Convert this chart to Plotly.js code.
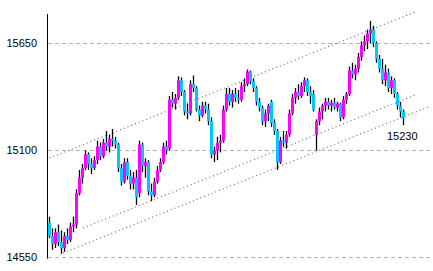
<!DOCTYPE html>
<html>
<head>
<meta charset="utf-8">
<script src="https://cdn.plot.ly/plotly-3.0.1.min.js"></script>
<style>
html,body{margin:0;padding:0;background:#fff;}
#chart{width:433px;height:271px;}
</style>
</head>
<body>
<div id="chart"></div>
<script>
const candleOpen = [14730,14660,14620,14680,14630,14600,14660,14640,14710,14720,
14880,14960,15010,15080,15030,15010,15050,15120,15070,15140,
15120,15160,15150,15130,15010,14940,15040,14970,14930,14960,
14880,15130,15020,15040,14890,14870,14940,15000,15040,15120,
15110,15360,15340,15370,15460,15400,15300,15290,15440,15420,
15310,15280,15330,15310,15250,15080,15100,15140,15150,15310,
15390,15350,15390,15370,15360,15430,15440,15505,15455,15420,
15350,15320,15250,15290,15350,15240,15200,15040,15150,15140,
15180,15290,15370,15400,15380,15430,15460,15400,15390,15180,
15250,15300,15330,15350,15330,15345,15320,15340,15270,15360,
15390,15510,15490,15520,15580,15640,15660,15700,15720,15650,
15570,15520,15460,15500,15420,15460,15390,15330,15300];
const candleHigh = [14760,14700,14700,14720,14690,14680,14700,14730,14760,14900,
15000,15030,15100,15090,15060,15070,15150,15140,15160,15200,
15180,15210,15170,15140,15030,15060,15060,15000,14990,15000,
15150,15140,15060,15050,14930,14960,15020,15060,15140,15150,
15380,15400,15390,15480,15475,15410,15340,15460,15485,15430,
15330,15350,15350,15340,15270,15120,15170,15180,15330,15420,
15420,15410,15420,15410,15450,15470,15515,15510,15470,15430,
15370,15330,15310,15340,15360,15260,15210,15170,15200,15200,
15310,15390,15420,15440,15450,15475,15470,15430,15410,15260,
15320,15340,15370,15370,15360,15370,15350,15345,15380,15400,
15530,15550,15540,15600,15660,15690,15720,15765,15740,15660,
15590,15570,15540,15520,15480,15470,15400,15350,15310];
const candleLow = [14650,14590,14600,14610,14570,14580,14620,14630,14680,14700,
14870,14930,15000,15000,14980,15000,15030,15050,15060,15100,
15090,15120,15110,14990,14920,14930,14950,14900,14900,14820,
14860,14990,14960,14870,14840,14860,14930,14990,15030,15080,
15100,15320,15310,15360,15380,15280,15260,15280,15400,15300,
15250,15270,15290,15230,15060,15040,15050,15090,15140,15300,
15330,15320,15350,15340,15350,15400,15430,15440,15400,15330,
15300,15230,15220,15250,15220,15180,15000,15030,15120,15110,
15170,15280,15340,15360,15370,15400,15380,15340,15300,15100,
15230,15260,15300,15310,15300,15310,15300,15250,15260,15340,
15380,15470,15460,15500,15560,15610,15620,15650,15630,15550,
15500,15440,15430,15400,15390,15370,15310,15270,15230];
const candleClose = [14660,14620,14680,14630,14600,14660,14640,14710,14720,14880,
14960,15010,15080,15030,15010,15050,15120,15070,15140,15120,
15160,15150,15130,15010,14940,15040,14970,14930,14960,14860,
15130,15020,15040,14890,14870,14940,15000,15040,15120,15100,
15360,15340,15370,15460,15400,15300,15290,15440,15420,15310,
15280,15330,15310,15250,15080,15100,15140,15150,15310,15390,
15350,15390,15370,15360,15430,15440,15505,15455,15420,15350,
15320,15250,15290,15330,15240,15200,15040,15150,15140,15180,
15290,15370,15400,15380,15430,15460,15400,15380,15310,15250,
15300,15330,15350,15330,15345,15320,15340,15270,15360,15390,
15510,15490,15520,15580,15640,15660,15700,15720,15650,15570,
15520,15460,15500,15420,15460,15390,15330,15300,15265];

const yTickVals = [14550, 15100, 15650];
const yTickText = ['14550', '15100', '15650'];
const lastPrice = 15230;

// trend channel lines: [startIndex, endIndex], [startValue, endValue]
const upperLineIdx = [0, 121.8];
const upperLineVal = [15061, 15810];
const middleLineIdx = [11.2, 121.8];
const middleLineVal = [14702, 15384];
const lowerLineIdx = [4.5, 126.2];
const lowerLineVal = [14574, 15323];

const UP = '#ff00ff', DOWN = '#00c8ff';
const idx = candleClose.map((_, i) => i);

const wickX = [], wickY = [];
const upX = [], upY = [], dnX = [], dnY = [];
idx.forEach(i => {
  wickX.push(i, i, null);
  wickY.push(candleLow[i], candleHigh[i], null);
  if (candleClose[i] >= candleOpen[i]) {
    upX.push(i, i, null); upY.push(candleOpen[i], candleClose[i], null);
  } else {
    dnX.push(i, i, null); dnY.push(candleOpen[i], candleClose[i], null);
  }
});

const dotLine = {color: '#6e6e6e', width: 1.2, dash: '1px,3px'};
const traces = [
  {type: 'scatter', mode: 'lines', x: upperLineIdx, y: upperLineVal, line: dotLine, hoverinfo: 'skip'},
  {type: 'scatter', mode: 'lines', x: middleLineIdx, y: middleLineVal, line: dotLine, hoverinfo: 'skip'},
  {type: 'scatter', mode: 'lines', x: lowerLineIdx, y: lowerLineVal, line: dotLine, hoverinfo: 'skip'},
  {type: 'scatter', mode: 'lines', x: wickX, y: wickY, line: {color: '#000', width: 1.3}, hoverinfo: 'skip'},
  {type: 'scatter', mode: 'lines', x: upX, y: upY, line: {color: UP, width: 3}, hoverinfo: 'skip'},
  {type: 'scatter', mode: 'lines', x: dnX, y: dnY, line: {color: DOWN, width: 3}, hoverinfo: 'skip'}
];

const layout = {
  width: 433, height: 271,
  margin: {l: 48, r: 3, t: 8, b: 12, pad: 0},
  paper_bgcolor: '#fff', plot_bgcolor: '#fff',
  showlegend: false,
  font: {family: '"Liberation Sans", Arial, sans-serif', size: 11, color: '#000'},
  xaxis: {range: [-0.5, -0.5 + 382/3], showgrid: false, zeroline: false, showline: false,
          showticklabels: false, ticks: '', fixedrange: true},
  yaxis: {range: [14543, 15831], tickvals: yTickVals, ticktext: yTickText,
          showgrid: true, gridcolor: '#b4b4b4', gridwidth: 1, griddash: '4px,3px',
          zeroline: false, showline: false, ticks: '', ticklabelstandoff: 10, fixedrange: true},
  shapes: [{type: 'line', xref: 'paper', yref: 'y', x0: -0.5/382, x1: -0.5/382,
            y0: 14545, y1: 15800, line: {color: '#000', width: 1}}],
  annotations: [{xref: 'x', yref: 'y', x: idx.length - 1, y: lastPrice,
                 text: String(lastPrice), showarrow: false, xanchor: 'center', yanchor: 'top',
                 xshift: -1, yshift: -3, font: {size: 11, color: '#000'}}]
};

Plotly.newPlot('chart', traces, layout, {displayModeBar: false, staticPlot: true});
</script>
</body>
</html>
